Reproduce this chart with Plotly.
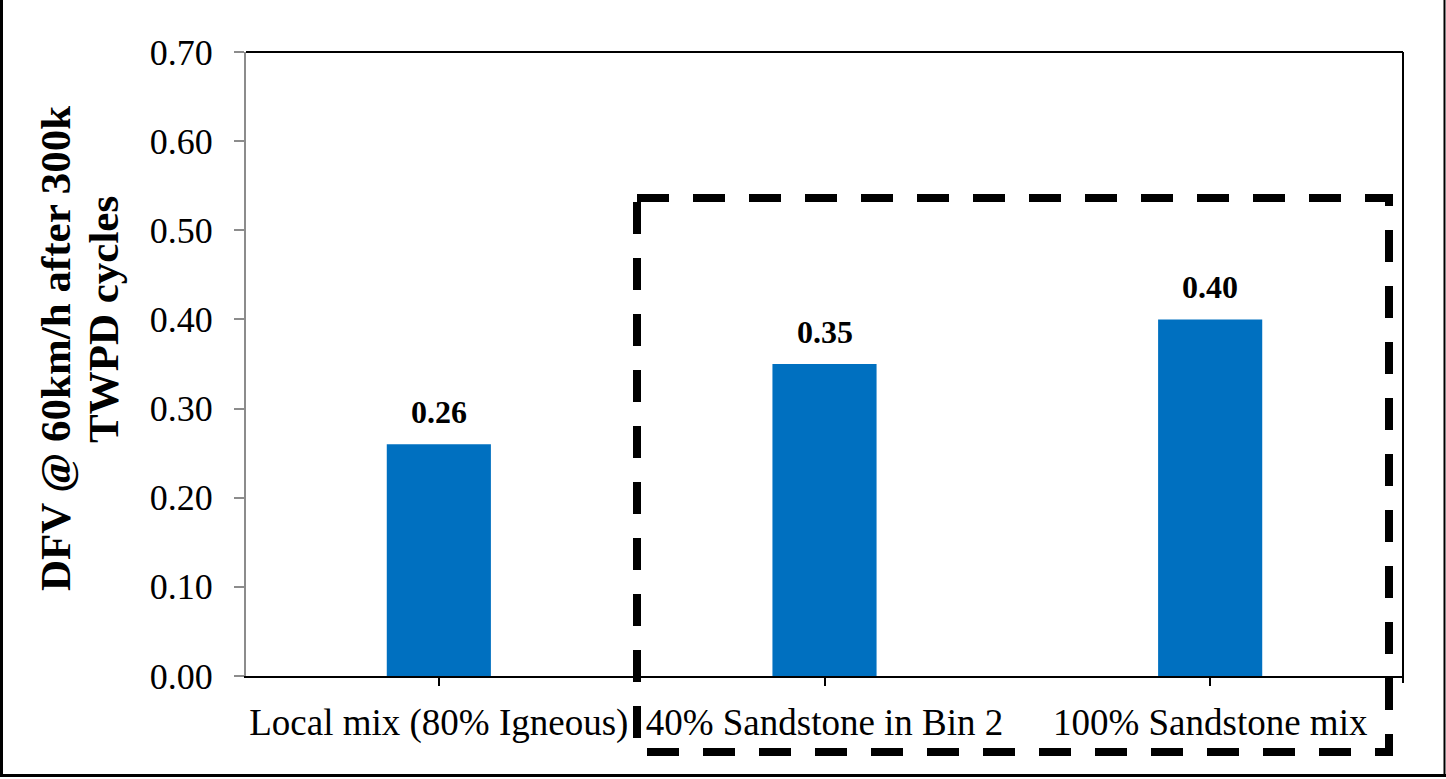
import plotly.graph_objects as go

# Mix designs and their DFV results
categories = ["Local mix (80% Igneous)", "40% Sandstone in Bin 2", "100% Sandstone mix"]
dfv_values = [0.26, 0.35, 0.40]
y_ticks = [0.0, 0.1, 0.2, 0.3, 0.4, 0.5, 0.6, 0.7]
title_lines = ["DFV @ 60km/h after 300k", "TWPD cycles"]

W, H = 1446, 779
L, R, T, B = 246, 43, 52, 103
PW, PH = W - L - R, H - T - B


def px_x(p):
    return (p - L) / PW


def px_y(p):
    return (H - B - p) / PH


serif = "Liberation Serif, Times New Roman, serif"
bar_color = "#0070C0"

fig = go.Figure()
fig.add_trace(go.Bar(
    x=categories,
    y=dfv_values,
    width=0.27,
    marker=dict(color=bar_color, line=dict(width=0)),
    showlegend=False,
))

annotations = []
for cat, val in zip(categories, dfv_values):
    annotations.append(dict(
        x=cat, y=val, xref="x", yref="y",
        text=f"<b>{val:.2f}</b>", showarrow=False,
        yanchor="bottom", yshift=12,
        font=dict(family=serif, size=32, color="black"),
    ))

# Axis title, two rotated lines
for line, cx, cy in zip(title_lines, [55, 103], [349, 320]):
    annotations.append(dict(
        x=px_x(cx), y=px_y(cy), xref="paper", yref="paper",
        text=f"<b>{line}</b>",
        textangle=-90, showarrow=False,
        xanchor="center", yanchor="middle",
        font=dict(family=serif, size=43, color="black"),
    ))

shapes = [
    # top and right borders of the plot area
    dict(type="line", xref="paper", yref="paper", x0=0, x1=1, y0=1, y1=1,
         line=dict(color="black", width=2)),
    dict(type="line", xref="paper", yref="paper", x0=1, x1=1, y0=px_y(683), y1=1,
         line=dict(color="black", width=2)),
    # outer frame
    dict(type="line", xref="paper", yref="paper", x0=px_x(1.5), x1=px_x(1.5),
         y0=px_y(776), y1=px_y(-2), line=dict(color="black", width=3)),
    dict(type="line", xref="paper", yref="paper", x0=px_x(1444.5), x1=px_x(1444.5),
         y0=px_y(776), y1=px_y(-2), line=dict(color="black", width=2)),
    dict(type="line", xref="paper", yref="paper", x0=px_x(0), x1=px_x(1446),
         y0=px_y(775.5), y1=px_y(775.5), line=dict(color="black", width=3)),
    # dashed highlight around the sandstone mixes
    dict(type="rect", xref="paper", yref="paper",
         x0=px_x(637), x1=px_x(1389), y0=px_y(198), y1=px_y(752),
         line=dict(color="black", width=8, dash="32px,24px"),
         layer="above"),
]

fig.update_layout(
    width=W, height=H,
    margin=dict(l=L, r=R, t=T, b=B, pad=0),
    paper_bgcolor="white", plot_bgcolor="white",
    bargap=0.73,
    annotations=annotations,
    shapes=shapes,
    xaxis=dict(
        type="category",
        showline=True, linecolor="black", linewidth=2,
        ticks="outside", ticklen=8, tickwidth=2, tickcolor="black",
        ticklabelstandoff=5,
        showgrid=False, zeroline=False,
        tickfont=dict(family=serif, size=37, color="black"),
    ),
    yaxis=dict(
        range=[0, 0.7],
        tickvals=y_ticks,
        tickformat=".2f",
        showline=True, linecolor="#8c8c8c", linewidth=2,
        ticks="outside", ticklen=10, tickwidth=2, tickcolor="#8c8c8c",
        ticklabelstandoff=14,
        showgrid=False, zeroline=False,
        tickfont=dict(family=serif, size=36, color="black"),
    ),
)

fig.write_html("out.html")
